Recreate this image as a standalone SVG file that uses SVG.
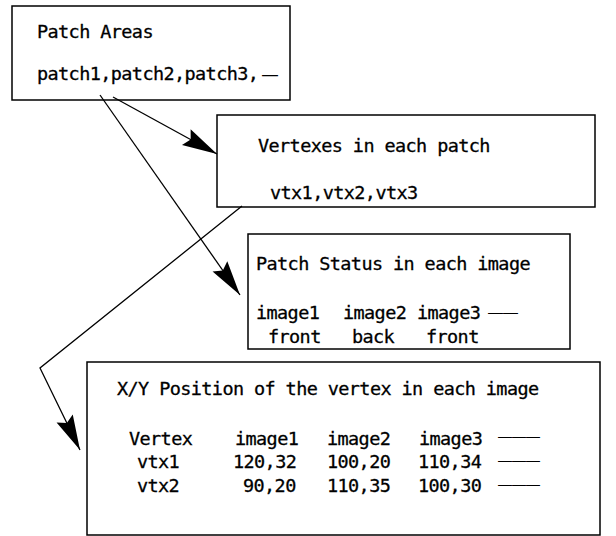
<svg xmlns="http://www.w3.org/2000/svg" width="616" height="536" viewBox="0 0 616 536">
<style>
.box{fill:#fff;stroke:#000;stroke-width:1.5}
.t{font-family:"DejaVu Sans Mono","Liberation Mono",monospace;font-size:18.5px;letter-spacing:-0.6px;fill:#000;stroke:#000;stroke-width:0.3}
.d{font-family:"Liberation Sans",Arial,sans-serif;fill:#000}
.c{fill:none;stroke:#000;stroke-width:1.3}
</style>
<defs>
<marker id="ah" markerUnits="userSpaceOnUse" markerWidth="40" markerHeight="24" viewBox="-36 -12 40 24" refX="0" refY="0" orient="auto">
<path d="M0,0 L-35,-9 L-30,0 L-35,9 Z" fill="#000"/>
</marker>
</defs>
<rect width="616" height="536" fill="#fff"/>
<g id="patch-areas">
<rect class="box" x="12" y="6" width="278" height="94"/>
<text class="t" x="37" y="38">Patch Areas</text>
<text class="t" x="37" y="80">patch1,patch2,patch3,</text>
<text class="d" x="262" y="80" font-size="16">—</text>
</g>
<g id="vertexes">
<rect class="box" x="217" y="115" width="378" height="92"/>
<text class="t" x="258" y="152">Vertexes in each patch</text>
<text class="t" x="270" y="199">vtx1,vtx2,vtx3</text>
</g>
<g id="patch-status">
<rect class="box" x="248" y="234" width="322" height="115"/>
<text class="t" x="256" y="270">Patch Status in each image</text>
<text class="t" x="256" y="319">image1</text>
<text class="t" x="343" y="319">image2</text>
<text class="t" x="417" y="319">image3</text>
<text class="d" x="488" y="317" font-size="15">——</text>
<text class="t" x="268" y="343">front</text>
<text class="t" x="352" y="343">back</text>
<text class="t" x="426" y="343">front</text>
</g>
<g id="xy-position">
<rect class="box" x="87" y="362" width="513" height="173"/>
<text class="t" x="117" y="395">X/Y Position of the vertex in each image</text>
<text class="t" x="129" y="445">Vertex</text>
<text class="t" x="235" y="445">image1</text>
<text class="t" x="327" y="445">image2</text>
<text class="t" x="419" y="445">image3</text>
<text class="d" x="498" y="441" font-size="14">———</text>
<text class="t" x="137" y="468">vtx1</text>
<text class="t" x="233" y="468">120,32</text>
<text class="t" x="327" y="468">100,20</text>
<text class="t" x="418" y="468">110,34</text>
<text class="d" x="498" y="465" font-size="14">———</text>
<text class="t" x="137" y="492">vtx2</text>
<text class="t" x="243" y="492">90,20</text>
<text class="t" x="327" y="492">110,35</text>
<text class="t" x="418" y="492">100,30</text>
<text class="d" x="498" y="489" font-size="14">———</text>
</g>
<g id="connectors">
<path class="c" d="M100,95 L240,295" marker-end="url(#ah)"/>
<path class="c" d="M113,97 L217,154" marker-end="url(#ah)"/>
<path class="c" d="M242,206 L40,368 L80,450" marker-end="url(#ah)"/>
</g>
</svg>
